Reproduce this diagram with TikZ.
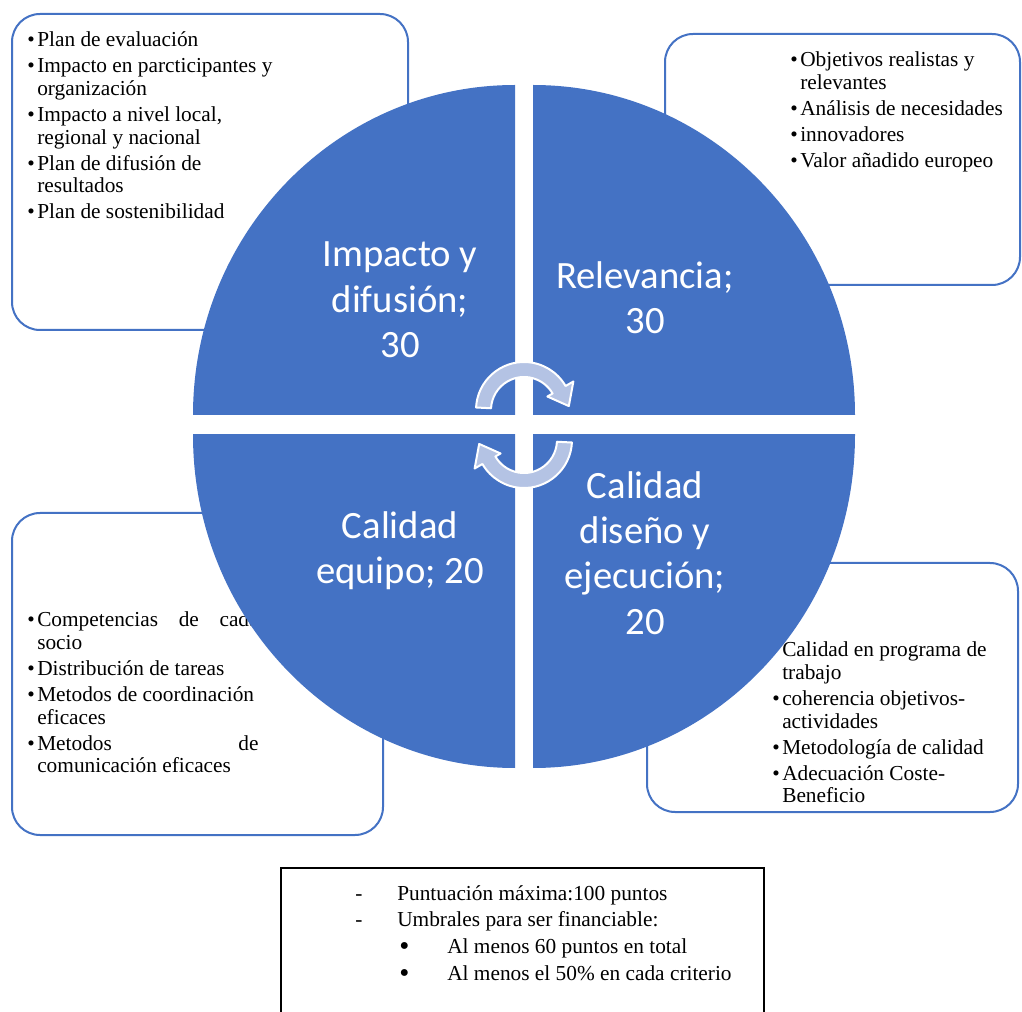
\documentclass[tikz,border=0pt]{standalone}
\usepackage{fontspec}
\setmainfont{Liberation Serif}
\newfontfamily\segfont{Carlito}
\usepackage{xcolor}
\usepackage{tikz}
\usetikzlibrary{positioning}
\definecolor{segblue}{HTML}{4472C4}
\definecolor{arrowblue}{HTML}{B4C3E4}
\newcommand{\itembul}{\makebox[7.5pt][l]{\textbullet}}
\newcommand{\itemgap}{2.6pt}
\newcommand{\bigbul}{\raisebox{-1.6pt}{\scalebox{1.35}{\textbullet}}}

\begin{document}
\begin{tikzpicture}[
    x=0.75pt, y=-0.75pt,
    listbox/.style={draw=segblue, line width=1.5pt, fill=white, rounded corners=21pt},
    listtext/.style={anchor=base west, inner sep=0pt, font=\fontsize{16}{16.9}\selectfont},
    quadrant/.style={fill=segblue},
    seglabel/.style={text=white, align=center, font=\segfont\fontsize{29}{34}\selectfont},
    cyclearrow/.style={fill=arrowblue, draw=white, line width=1.5pt, line join=round}
]
\useasboundingbox (0,0) rectangle (1022,1012);

% Boxes with the sub-criteria
\draw[listbox] (12,14) rectangle (408,330);
\draw[listbox] (665,34) rectangle (1020,285);
\draw[listbox] (12,513) rectangle (383,835);
\draw[listbox] (647,563) rectangle (1018,812);

\node[listtext] (impactlist) at (27,47) {\begin{tabular}[t]{@{}l@{}l@{}}
\itembul & Plan de evaluación\\[\itemgap]
\itembul & Impacto en parcticipantes y\\
 & organización\\[\itemgap]
\itembul & Impacto a nivel local,\\
 & regional y nacional\\[\itemgap]
\itembul & Plan de difusión de\\
 & resultados\\[\itemgap]
\itembul & Plan de sostenibilidad
\end{tabular}};

\node[listtext] (relevlist) at (790,67) {\begin{tabular}[t]{@{}l@{}l@{}}
\itembul & Objetivos realistas y\\
 & relevantes\\[\itemgap]
\itembul & Análisis de necesidades\\[\itemgap]
\itembul & innovadores\\[\itemgap]
\itembul & Valor añadido europeo
\end{tabular}};

\node[listtext] (teamlist) at (27,627) {\begin{tabular}[t]{@{}l@{}l@{}}
\itembul & \makebox[166pt][s]{Competencias de cada}\\
 & socio\\[\itemgap]
\itembul & Distribución de tareas\\[\itemgap]
\itembul & Metodos de coordinación\\
 & eficaces\\[\itemgap]
\itembul & \makebox[166pt][s]{Metodos de}\\
 & comunicación eficaces
\end{tabular}};

\node[listtext] (designlist) at (772,657) {\begin{tabular}[t]{@{}l@{}l@{}}
\itembul & Calidad en programa de\\
 & trabajo\\[\itemgap]
\itembul & coherencia objetivos-\\
 & actividades\\[\itemgap]
\itembul & Metodología de calidad\\[\itemgap]
\itembul & Adecuación Coste-\\
 & Beneficio
\end{tabular}};

% Segmented circle
\begin{scope}
  \clip (0,0) rectangle (515,415);
  \fill[quadrant] (515,415) ellipse [x radius=322, y radius=330];
\end{scope}
\begin{scope}
  \clip (533,0) rectangle (1022,415);
  \fill[quadrant] (533,415) ellipse [x radius=322, y radius=330];
\end{scope}
\begin{scope}
  \clip (0,435) rectangle (515,1012);
  \fill[quadrant] (515,435) ellipse [x radius=322, y radius=333];
\end{scope}
\begin{scope}
  \clip (533,435) rectangle (1022,1012);
  \fill[quadrant] (533,435) ellipse [x radius=322, y radius=333];
\end{scope}

\node[seglabel] (impact) at (400,300) {Impacto y\\difusión;\\30};
\node[seglabel] (relev) at (645,298) {Relevancia;\\30};
\node[seglabel] (team) at (400,551) {Calidad\\equipo;~20};
\node[seglabel] (design) at (645,553) {Calidad\\diseño y\\ejecución;\\20};

% Cycle arrows
\begin{scope}[shift={(524,410)}]
  \draw[cyclearrow] (183:48) arc[start angle=183, end angle=330, radius=48]
    -- (330:57) -- (355:45) -- (330:27) -- (330:33)
    arc[start angle=330, end angle=183, radius=33] -- cycle;
\end{scope}
\begin{scope}[shift={(524,440)}]
  \draw[cyclearrow] (3:48) arc[start angle=3, end angle=150, radius=48]
    -- (150:57) -- (175:45) -- (150:27) -- (150:33)
    arc[start angle=150, end angle=3, radius=33] -- cycle;
\end{scope}

% Summary box
\draw[line width=1.2pt] (281,1012) -- (281,868) -- (764,868) -- (764,1012);
\node[listtext, font=\fontsize{16}{19.5}\selectfont] (summary) at (355,900) {\begin{tabular}[t]{@{}l@{}}
\makebox[31.5pt][l]{-}Puntuación máxima:100 puntos\\
\makebox[31.5pt][l]{-}Umbrales para ser financiable:\\[1pt]
\hspace*{33pt}\makebox[36pt][l]{\bigbul}Al menos 60 puntos en total\\[1pt]
\hspace*{33pt}\makebox[36pt][l]{\bigbul}Al menos el 50\% en cada criterio
\end{tabular}};

\end{tikzpicture}
\end{document}
